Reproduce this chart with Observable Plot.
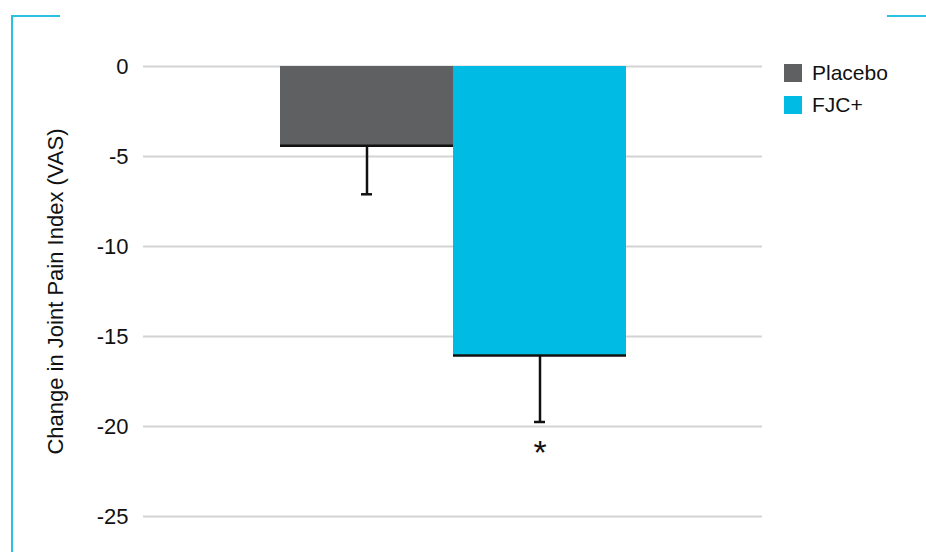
<!DOCTYPE html>
<html>
<head>
<meta charset="utf-8">
<script src="https://cdn.jsdelivr.net/npm/d3@7"></script>
<script src="https://cdn.jsdelivr.net/npm/@observablehq/plot@0.6"></script>
<style>
  html, body { margin: 0; padding: 0; background: #fff; }
  #wrap { position: relative; width: 926px; height: 552px; overflow: hidden; font-family: "Liberation Sans", Arial, sans-serif; }
  .corner { position: absolute; background: #29c0e2; }
  .legend { position: absolute; left: 784px; top: 57px; font-size: 21px; color: #111; }
  .legend .item { display: flex; align-items: center; height: 32px; }
  .legend .sw { width: 18px; height: 18px; margin-right: 10px; }
</style>
</head>
<body>
<div id="wrap">
  <div class="corner" style="left:11px;top:15px;width:49px;height:2px"></div>
  <div class="corner" style="left:11px;top:15px;width:2px;height:540px"></div>
  <div class="corner" style="left:887px;top:15px;width:39px;height:2px"></div>
  <div class="legend" id="legend"></div>
</div>
<script>
const groups = ["Placebo", "FJC+"];
const means = [-4.4, -16.05];
const errLow = [-7.1, -19.75];
const marks = ["", "*"];
const colors = ["#5f6062", "#00bbe3"];
const yTicks = [0, -5, -10, -15, -20, -25];
const yLabel = "Change in Joint Pain Index (VAS)";

const data = groups.map((g, i) => ({group: g, value: means[i], low: errLow[i], mark: marks[i]}));

const chart = Plot.plot({
  width: 926,
  height: 552,
  marginLeft: 143,
  marginRight: 164,
  marginTop: 66,
  marginBottom: 36,
  style: {fontFamily: "Liberation Sans, Arial, sans-serif", fontSize: "21px", color: "#111", background: "transparent"},
  x: {type: "band", domain: groups, paddingInner: 0, paddingOuter: 0.779, axis: null},
  y: {domain: [-25, 0]},
  color: {domain: groups, range: colors},
  marks: [
    Plot.ruleY(yTicks, {stroke: "#d3d3d3", strokeWidth: 2}),
    Plot.barY(data, {x: "group", y: "value", fill: "group"}),
    Plot.ruleX(data, {x: "group", y1: "value", y2: "low", stroke: "#111", strokeWidth: 2.5}),
    Plot.tickY(data, {x: "group", y: "low", stroke: "#111", strokeWidth: 2.5, insetLeft: 81, insetRight: 81}),
    Plot.tickY(data, {x: "group", y: "value", stroke: "#111", strokeWidth: 2.5}),
    Plot.text(data, {x: "group", y: -21.5, text: "mark", fontSize: 34, fill: "#111"}),
    Plot.axisY({ticks: yTicks, tickFormat: d => String(d), tickSize: 0, tickPadding: 15, fontSize: 22,
      label: yLabel, labelAnchor: "center", labelArrow: "none", labelOffset: 96})
  ]
});
document.getElementById("wrap").prepend(chart);
chart.style.position = "absolute";
chart.style.left = "0";
chart.style.top = "0";

const lg = document.getElementById("legend");
groups.forEach((g, i) => {
  const it = document.createElement("div");
  it.className = "item";
  it.innerHTML = `<span class="sw" style="background:${colors[i]}"></span><span>${g}</span>`;
  lg.appendChild(it);
});
</script>
</body>
</html>
